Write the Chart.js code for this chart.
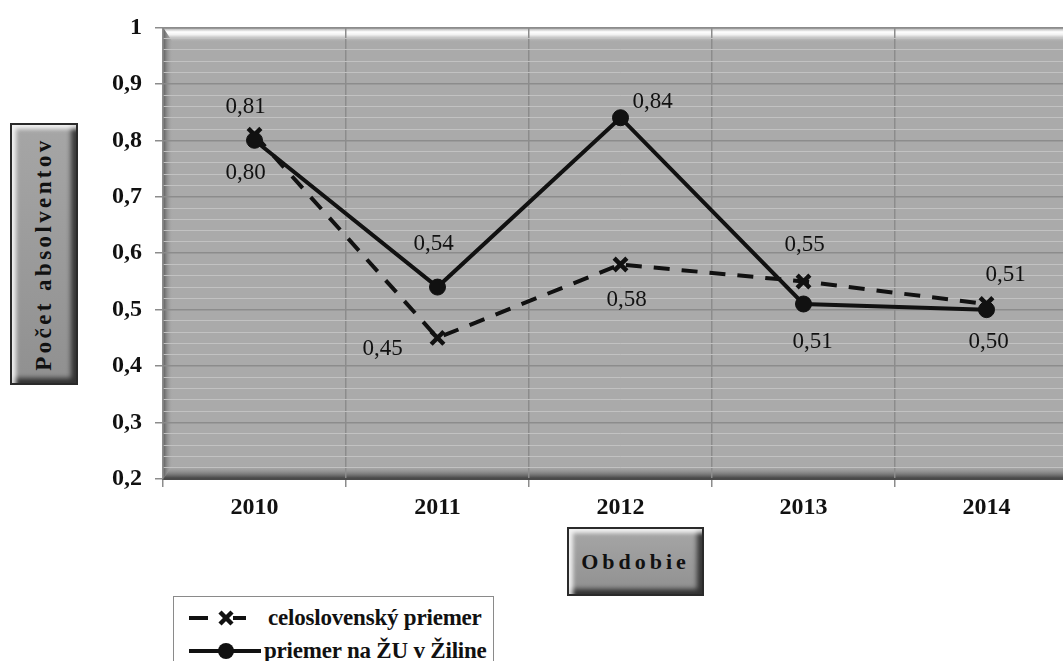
<!DOCTYPE html>
<html>
<head>
<meta charset="utf-8">
<title>Počet absolventov</title>
<script src="https://cdn.jsdelivr.net/npm/chart.js"></script>
<style>
  html, body { margin: 0; padding: 0; background: #fff; overflow: hidden; width: 1063px; height: 661px; }
  #wrap { position: absolute; left: 0; top: 0; width: 1100px; height: 661px; }
  canvas { display: block; }
  .bevel {
    position: absolute; box-sizing: border-box;
    background: linear-gradient(#a6a6a6, #909090);
    border: 2px solid #2a2a2a;
    box-shadow: inset 5px 5px 4px -1px rgba(255,255,255,0.85), inset -6px -6px 5px -1px rgba(0,0,0,0.65);
    font-family: "Liberation Serif", "Times New Roman", serif; font-weight: bold; color: #111;
    display: flex; align-items: center; justify-content: center;
  }
  #ytitle { left: 10px; top: 123px; width: 68px; height: 262px; }
  #ytitle span { transform: rotate(-90deg); white-space: nowrap; font-size: 23px; letter-spacing: 3.4px; }
  #xtitle { left: 567px; top: 527px; width: 137px; height: 69px; font-size: 22px; letter-spacing: 4px; }
  #legend { position: absolute; left: 173px; top: 596px; width: 321px; height: 80px; box-sizing: border-box;
    border: 1px solid #8a8a8a; background: #fff; }
  #legend svg { position: absolute; left: 0; top: 0; }
  .lg { position: absolute; font-family: "Liberation Serif", "Times New Roman", serif; font-weight: bold;
    font-size: 23px; line-height: 23px; color: #111; white-space: nowrap; letter-spacing: -0.2px; }
</style>
</head>
<body>
<div id="wrap"><canvas id="chart" width="1100" height="661"></canvas></div>
<div id="ytitle" class="bevel"><span>Počet absolventov</span></div>
<div id="xtitle" class="bevel">Obdobie</div>
<div id="legend">
  <svg width="100" height="66" viewBox="0 0 100 66">
    <line x1="15" y1="21" x2="34" y2="21" stroke="#111" stroke-width="4"/>
    <line x1="46" y1="15" x2="58" y2="27" stroke="#111" stroke-width="4.5"/>
    <line x1="46" y1="27" x2="58" y2="15" stroke="#111" stroke-width="4.5"/>
    <line x1="59" y1="21" x2="72" y2="21" stroke="#111" stroke-width="4"/>
    <line x1="15" y1="54" x2="87" y2="54" stroke="#111" stroke-width="4"/>
    <circle cx="52" cy="54" r="8" fill="#111"/>
  </svg>
  <div class="lg" id="lg0" style="left:94px; top:9px;"></div>
  <div class="lg" id="lg1" style="left:90px; top:42px;"></div>
</div>

<script>
// Years on the horizontal axis
const years = ['2010', '2011', '2012', '2013', '2014'];
// Nationwide average
const celoslovenskyPriemer = [0.81, 0.45, 0.58, 0.55, 0.51];
// Average at the University of Žilina
const priemerZU = [0.80, 0.54, 0.84, 0.51, 0.50];
// Series names
const seriesNames = ['celoslovenský priemer', 'priemer na ŽU v Žiline'];
// Value axis range and steps
const yMin = 0.2, yMax = 1, yMajorStep = 0.1, yMinorStep = 0.02;

document.getElementById('lg0').textContent = seriesNames[0];
document.getElementById('lg1').textContent = seriesNames[1];

const isMajor = v => Math.abs(v / yMajorStep - Math.round(v / yMajorStep)) < 1e-6;
const fmtTick = v => (Math.abs(v - 1) < 1e-9 ? '1' : v.toFixed(1).replace('.', ','));
const fmtValue = v => v.toFixed(2).replace('.', ',');

// Grey plot area with a bevelled frame
const plotBackground = {
  id: 'plotBackground',
  beforeDraw(chart) {
    const { ctx, chartArea: { left, top, right, bottom } } = chart;
    ctx.save();
    ctx.fillStyle = '#aaaaaa';
    ctx.fillRect(left, top, right - left, bottom - top);

    const band = (pts, g) => {
      ctx.beginPath();
      ctx.moveTo(pts[0][0], pts[0][1]);
      for (let i = 1; i < pts.length; i++) ctx.lineTo(pts[i][0], pts[i][1]);
      ctx.closePath();
      ctx.fillStyle = g;
      ctx.fill();
    };
    const th = 15, lw = 10, bh = 14;
    let g = ctx.createLinearGradient(0, top, 0, top + th);
    g.addColorStop(0, '#707070');
    g.addColorStop(0.12, '#c4c4c4');
    g.addColorStop(0.3, '#ffffff');
    g.addColorStop(0.5, '#f0f0f0');
    g.addColorStop(1, 'rgba(170,170,170,0)');
    band([[left, top], [right, top], [right - th, top + th], [left + lw, top + th]], g);

    g = ctx.createLinearGradient(left, 0, left + lw, 0);
    g.addColorStop(0, '#5a5a5a');
    g.addColorStop(1, 'rgba(170,170,170,0)');
    band([[left, top], [left + lw, top + th], [left + lw, bottom - bh], [left, bottom]], g);

    g = ctx.createLinearGradient(0, bottom - bh, 0, bottom);
    g.addColorStop(0, 'rgba(170,170,170,0)');
    g.addColorStop(1, '#3a3a3a');
    band([[left, bottom], [left + lw, bottom - bh], [right - bh, bottom - bh], [right, bottom]], g);
    ctx.restore();
  }
};

// Value labels next to each point
const valueLabels = {
  id: 'valueLabels',
  afterDatasetsDraw(chart, args, opts) {
    const { ctx } = chart;
    ctx.save();
    ctx.font = opts.font;
    ctx.fillStyle = opts.color;
    ctx.textAlign = 'center';
    ctx.textBaseline = 'middle';
    chart.data.datasets.forEach((ds, di) => {
      const meta = chart.getDatasetMeta(di);
      meta.data.forEach((pt, i) => {
        const off = opts.offsets[di][i];
        ctx.fillText(fmtValue(ds.data[i]), pt.x + off[0], pt.y + off[1]);
      });
    });
    ctx.restore();
  }
};

const serif = '"Liberation Serif", "Times New Roman", serif';

new Chart(document.getElementById('chart'), {
  type: 'line',
  data: {
    labels: years,
    datasets: [
      {
        label: seriesNames[0],
        data: celoslovenskyPriemer,
        borderColor: '#111',
        borderWidth: 4,
        borderDash: [16, 12],
        tension: 0,
        pointStyle: 'crossRot',
        pointRadius: 9,
        pointBorderWidth: 4.5,
        pointBorderColor: '#111',
        pointBackgroundColor: '#111',
        order: 2
      },
      {
        label: seriesNames[1],
        data: priemerZU,
        borderColor: '#111',
        borderWidth: 4,
        tension: 0,
        pointStyle: 'circle',
        pointRadius: 8,
        pointBorderWidth: 1,
        pointBorderColor: '#111',
        pointBackgroundColor: '#111',
        order: 1
      }
    ]
  },
  options: {
    responsive: false,
    animation: false,
    events: [],
    layout: { padding: { left: 0, top: 23, right: 22, bottom: 0 } },
    plugins: {
      legend: { display: false },
      tooltip: { enabled: false },
      valueLabels: {
        font: '23px ' + serif,
        color: '#111',
        offsets: [
          [[-9, -28], [-55, 11], [6, 35], [1, -36], [19, -29]],
          [[-9, 33], [-4, -43], [32, -16], [9, 38], [2, 32]]
        ]
      }
    },
    scales: {
      x: {
        offset: true,
        grid: { offset: true, color: '#8c8c8c', lineWidth: 1.5, tickColor: '#8c8c8c', tickLength: 8 },
        border: { color: '#4a4a4a', width: 2 },
        ticks: { font: { family: serif, size: 24, weight: 'bold' }, color: '#111', padding: 6, maxRotation: 0 },
        afterFit(scale) { scale.height = 182; }
      },
      y: {
        min: yMin,
        max: yMax,
        grid: {
          color: c => (isMajor(c.tick.value) ? '#8c8c8c' : '#c2c2c2'),
          lineWidth: c => (isMajor(c.tick.value) ? 1.5 : 1),
          tickColor: c => (isMajor(c.tick.value) ? '#8c8c8c' : 'rgba(0,0,0,0)'),
          tickLength: 8
        },
        border: { color: '#8c8c8c', width: 1.5 },
        ticks: {
          stepSize: yMinorStep,
          maxTicksLimit: 100,
          autoSkip: false,
          padding: 13,
          color: '#111',
          font: { family: serif, size: 24, weight: 'bold' },
          callback: v => (isMajor(v) ? fmtTick(v) : '')
        },
        afterFit(scale) { scale.width = 163; }
      }
    }
  },
  plugins: [plotBackground, valueLabels]
});
</script>
</body>
</html>
